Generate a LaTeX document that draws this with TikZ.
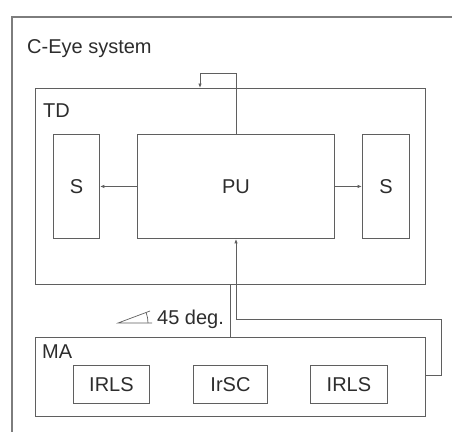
\documentclass[tikz,border=0pt]{standalone}
\usepackage{fontspec}
\setmainfont{Liberation Sans}
\usetikzlibrary{arrows.meta}
\definecolor{linecol}{RGB}{95,95,95}
\definecolor{outercol}{RGB}{125,125,125}
\definecolor{textcol}{RGB}{45,45,45}
\tikzset{
  box/.style={draw=linecol, line width=0.9pt, inner sep=0pt, anchor=north west},
  lbl/.style={font=\fontsize{20}{24}\selectfont, text=textcol, inner sep=0pt},
  conn/.style={draw=linecol, line width=0.9pt},
  arr/.style={conn, -{Latex[length=4.5pt,width=3.5pt]}}
}
\begin{document}
\begin{tikzpicture}[x=1pt,y=-1pt]
\useasboundingbox (0,0) rectangle (452,431);
\fill[white] (0,0) rectangle (452,431);
\clip (0,0) rectangle (452,431);
% outer system box
\node[box, draw=outercol, line width=1.6pt, minimum width=470pt, minimum height=440pt] (sys) at (11,16) {};
\node[lbl, anchor=base west] (systitle) at (27,53) {C-Eye system};
% TD
\node[box, minimum width=390pt, minimum height=196pt] (TD) at (35,88) {};
\node[lbl, anchor=base west] (TDl) at (43,117) {TD};
\node[box, minimum width=46pt, minimum height=104pt] (SL) at (53,134) {};
\node[lbl] at (SL.center) {S};
\node[box, minimum width=197pt, minimum height=104pt] (PU) at (137,134) {};
\node[lbl] at (PU.center) {PU};
\node[box, minimum width=47pt, minimum height=104pt] (SR) at (362,134) {};
\node[lbl] at (SR.center) {S};
% MA
\node[box, minimum width=390pt, minimum height=79pt] (MA) at (35,337) {};
\node[lbl, anchor=base west] (MAl) at (42,358) {MA};
\node[box, minimum width=76pt, minimum height=38pt] (IR1) at (73,365) {};
\node[lbl] at (IR1.center) {IRLS};
\node[box, minimum width=74pt, minimum height=38pt] (IRSC) at (193,365) {};
\node[lbl] at (IRSC.center) {IrSC};
\node[box, minimum width=77pt, minimum height=38pt] (IR2) at (310,365) {};
\node[lbl] at (IR2.center) {IRLS};
% connectors
\draw[arr] (PU.west) -- (SL.east);
\draw[arr] (PU.east) -- (SR.west);
\coordinate (t1) at (236,73);
\coordinate (t2) at (200,73);
\draw[arr] (PU.north -| t1) -- (t1) -- (t2) -- (t2 |- TD.north);
\coordinate (b1) at (236,319);
\coordinate (b2) at (441,319);
\coordinate (b3) at (441,375);
\draw[arr] (b3 -| MA.east) -- (b3) -- (b2) -- (b1) -- (b1 |- PU.south);
\coordinate (v) at (230,300);
\draw[conn] (v |- TD.south) -- (v |- MA.north);
% 45 deg label with angle mark
\draw[conn, line width=0.7pt] (152,323) -- (118,323) -- (150,311);
\draw[conn, line width=0.7pt] (148,323) arc[start angle=0, end angle=20, radius=30pt];
\node[lbl, anchor=base west] (deg) at (157,324) {45 deg.};
\end{tikzpicture}
\end{document}
